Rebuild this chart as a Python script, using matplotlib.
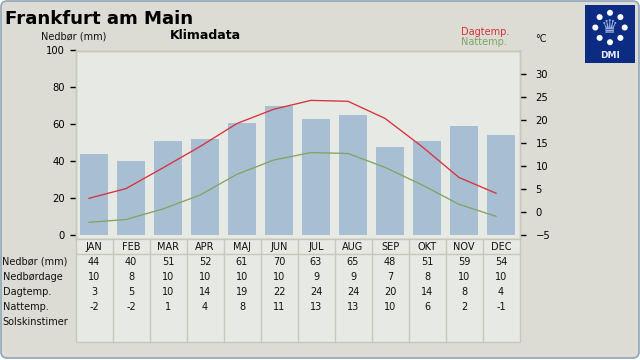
import numpy as np
import matplotlib
matplotlib.use("Agg")
import matplotlib.pyplot as plt
from matplotlib.patches import FancyBboxPatch, Rectangle, Circle
from matplotlib.transforms import ScaledTranslation

months = ["JAN","FEB","MAR","APR","MAJ","JUN","JUL","AUG","SEP","OKT","NOV","DEC"]
nedbor = [44,40,51,52,61,70,63,65,48,51,59,54]
nedbordage = [10,8,10,10,10,10,9,9,7,8,10,10]
dagtemp = [3,5,10,14,19,22,24,24,20,14,8,4]
nattemp = [-2,-2,1,4,8,11,13,13,10,6,2,-1]
dag_line = [3.0,5.1,9.6,14.2,19.2,22.3,24.2,24.0,20.3,14.2,7.5,4.1]
nat_line = [-2.2,-1.6,0.7,3.7,8.2,11.3,12.9,12.7,9.7,5.9,1.7,-0.9]
row_labels = ["Nedbør (mm)","Nedbørdage","Dagtemp.","Nattemp.","Solskinstimer"]
rows = [nedbor, nedbordage, dagtemp, nattemp, [""]*12]
left_ticks = [0,20,40,60,80,100]
right_ticks = [-5,0,5,10,15,20,25,30]

W, H = 640, 360
BG, PLOT, GRID = "#DCDCD4", "#E7E9E4", "#C8C8BA"
BAR, RED, GREEN = "#A8BFD3", "#D8303C", "#7FA562"
plt.rcParams["font.family"] = "DejaVu Sans"
FS = 7.2
TXT = 7.0

fig = plt.figure(figsize=(W/100, H/100), dpi=100, facecolor="white")
ov = fig.add_axes([0,0,1,1], zorder=0)
ov.set_xlim(0,W); ov.set_ylim(H,0); ov.axis("off")
ov.add_patch(FancyBboxPatch((1,1), W-2, H-3, boxstyle="round,pad=0,rounding_size=6",
                            fc=BG, ec="#8FA5B8", lw=1.2))

L, R, T, B = 75.5, 519.5, 50.5, 239.3
ax = fig.add_axes([L/W, 1-B/H, (R-L)/W, (B-T)/H], zorder=1, facecolor=PLOT)
x = np.arange(12)
ax.bar(x, nedbor, width=0.73, color=BAR)
ax.set_xlim(-0.5, 11.5)
ax.set_ylim(-2.2, 100)
ax.set_xticks([])
ax.set_yticks(left_ticks)
ax.tick_params(axis="y", length=4, width=1, labelsize=FS, pad=3.6, color="black")
for s in ax.spines.values():
    s.set_color(GRID); s.set_linewidth(1)

ax2 = ax.twinx()
ax2.set_ylim(-5.88, 35)
ax2.set_yticks(right_ticks)
ax2.tick_params(axis="y", length=4, width=1, labelsize=FS, pad=7.5, color="black")
for s in ax2.spines.values():
    s.set_color(GRID); s.set_linewidth(1)
shift = ax2.transData + ScaledTranslation(-5/100, 0, fig.dpi_scale_trans)
ax2.plot(x, dag_line, color=RED, lw=0.95, transform=shift)
ax2.plot(x, nat_line, color=GREEN, lw=0.95, transform=shift)

# table
ov2 = fig.add_axes([0,0,1,1], zorder=2)
ov2.set_xlim(0,W); ov2.set_ylim(H,0); ov2.axis("off"); ov2.patch.set_alpha(0)
tT, tM, tB = 239.3, 254.3, 342.3
cw = (R-L)/12
ov2.add_patch(Rectangle((L,tT), R-L, tB-tT, fc=PLOT, ec=GRID, lw=1))
ov2.plot([L,R],[tM,tM], color=GRID, lw=1)
for i in range(1,12):
    ov2.plot([L+i*cw]*2,[tT,tB], color=GRID, lw=1)
for i, m in enumerate(months):
    cx = L+(i+0.5)*cw
    ov2.text(cx, 246.7, m, ha="center", va="center", fontsize=TXT, color="#111111")
    for r, vals in enumerate(rows):
        ov2.text(cx, 261.7+15*r, str(vals[i]), ha="center", va="center", fontsize=TXT, color="#111111")
for r, lab in enumerate(row_labels):
    ov2.text(2.5, 261.7+15*r, lab, ha="left", va="center", fontsize=TXT, color="#111111")

# header text
ov2.text(5, 19.5, "Frankfurt am Main", ha="left", va="center", fontsize=13.05, fontweight="bold", color="black")
ov2.text(73.5, 36.5, "Nedbør (mm)", ha="center", va="center", fontsize=TXT, color="#111111")
ov2.text(205.5, 35.5, "Klimadata", ha="center", va="center", fontsize=9.0, fontweight="bold", color="black")
ov2.text(460.5, 32, "Dagtemp.", ha="left", va="center", fontsize=TXT, color=RED)
ov2.text(460.5, 42, "Nattemp.", ha="left", va="center", fontsize=TXT, color=GREEN)
ov2.text(535.5, 38.5, "°C", ha="left", va="center", fontsize=TXT, color="#111111")

# logo
ov2.add_patch(Rectangle((585,5), 50, 58, fc="#0C2C84", ec="none"))
cx, cy = 610, 27.5
for a in np.arange(8)*np.pi/4:
    ov2.add_patch(Circle((cx+14.7*np.sin(a), cy-14.7*np.cos(a)), 3, fc="white", ec="none"))
ov2.text(cx, cy, "♛", ha="center", va="center", fontsize=14, color="#9DB1DC")
ov2.text(cx, 55.5, "DMI", ha="center", va="center", fontsize=6.4, fontweight="bold", color="#E8ECF6")

fig.savefig("out.png", dpi=100, facecolor="white")
